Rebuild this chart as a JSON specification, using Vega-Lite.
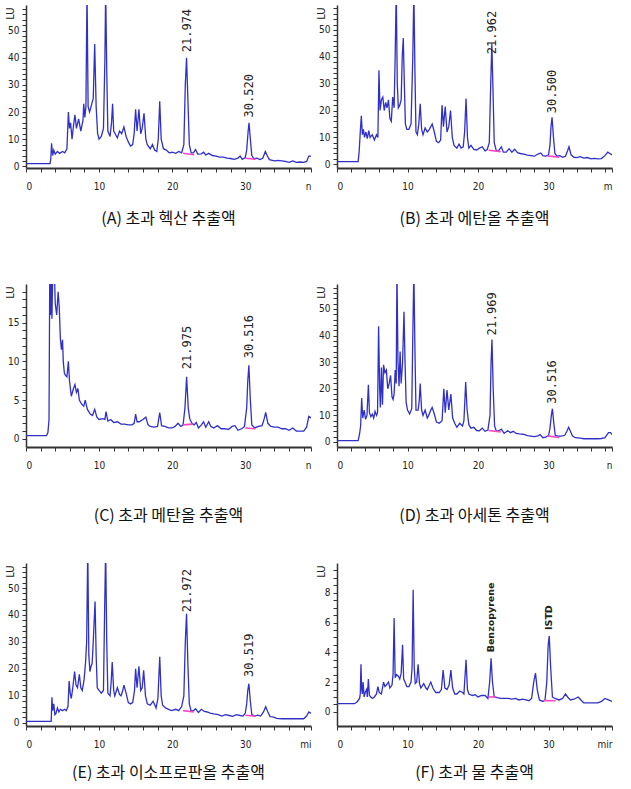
{
  "$schema": "https://vega.github.io/schema/vega-lite/v6.json",
  "background": "white",
  "padding": 5,
  "config": {
    "view": {"stroke": null},
    "axis": {"grid": false, "labelFont": "Liberation Sans Narrow, DejaVu Sans Condensed, sans-serif", "labelFontSize": 10, "labelColor": "#222", "domainColor": "#333", "domainWidth": 1.5, "tickColor": "#333", "tickSize": 4, "titleFont": "DejaVu Sans", "titleFontSize": 10, "titleFontWeight": "normal", "titleColor": "#222"},
    "axisX": {"labelPadding": 9, "domainWidth": 2, "title": null},
    "axisY": {"labelPadding": 3, "titleX": -16, "titleY": 8, "titleAngle": -90, "titleAlign": "center", "titleBaseline": "middle"},
    "title": {"orient": "bottom", "font": "Noto Sans CJK KR", "fontSize": 16, "fontWeight": "normal", "color": "#111", "offset": 18, "frame": "group", "anchor": "middle"}
  },
  "datasets": {
    "A": [{"t":0,"v":1.0},{"t":3.3,"v":1.0},{"t":3.4,"v":3},{"t":3.5,"v":8.5},{"t":3.65,"v":4},{"t":3.8,"v":6},{"t":4.0,"v":4.5},{"t":4.3,"v":5.5},{"t":4.6,"v":4.8},{"t":5.0,"v":5.5},{"t":5.3,"v":5},{"t":5.6,"v":6.5},{"t":5.8,"v":20},{"t":5.95,"v":14},{"t":6.1,"v":16},{"t":6.3,"v":10},{"t":6.5,"v":15},{"t":6.7,"v":19},{"t":6.9,"v":14},{"t":7.2,"v":17.5},{"t":7.5,"v":13},{"t":7.8,"v":17},{"t":7.9,"v":23},{"t":8.05,"v":18},{"t":8.2,"v":22},{"t":8.35,"v":65},{"t":8.5,"v":22},{"t":8.7,"v":20},{"t":8.9,"v":22},{"t":9.2,"v":25},{"t":9.4,"v":45},{"t":9.6,"v":22},{"t":9.8,"v":12},{"t":10.0,"v":10},{"t":10.3,"v":11},{"t":10.6,"v":14},{"t":10.8,"v":40},{"t":10.9,"v":65},{"t":11.05,"v":35},{"t":11.2,"v":13},{"t":11.5,"v":11},{"t":11.7,"v":16},{"t":11.85,"v":23},{"t":12.0,"v":13},{"t":12.2,"v":12},{"t":12.5,"v":10.5},{"t":12.8,"v":13},{"t":13.1,"v":12},{"t":13.4,"v":14.5},{"t":13.7,"v":11},{"t":14.0,"v":9},{"t":14.3,"v":7.5},{"t":14.6,"v":8},{"t":14.8,"v":12},{"t":15.0,"v":21},{"t":15.2,"v":13},{"t":15.45,"v":21},{"t":15.7,"v":12},{"t":15.9,"v":14},{"t":16.15,"v":19.5},{"t":16.4,"v":10},{"t":16.6,"v":8},{"t":17.0,"v":6.5},{"t":17.3,"v":8},{"t":17.6,"v":6},{"t":17.9,"v":5.5},{"t":18.1,"v":10},{"t":18.3,"v":24},{"t":18.5,"v":10},{"t":18.8,"v":6.5},{"t":19.2,"v":6},{"t":19.6,"v":5},{"t":20.0,"v":5.2},{"t":20.5,"v":4.8},{"t":20.9,"v":5.5},{"t":21.3,"v":5},{"t":21.6,"v":8},{"t":21.8,"v":30},{"t":21.97,"v":40},{"t":22.15,"v":25},{"t":22.35,"v":8},{"t":22.6,"v":5},{"t":22.9,"v":5},{"t":23.2,"v":6.2},{"t":23.5,"v":4.5},{"t":24.0,"v":4.6},{"t":24.3,"v":5.2},{"t":24.6,"v":4.2},{"t":25.0,"v":4.8},{"t":25.5,"v":4.0},{"t":26.0,"v":3.8},{"t":26.5,"v":3.4},{"t":27.0,"v":3.4},{"t":27.5,"v":3.0},{"t":28.0,"v":2.9},{"t":28.5,"v":2.6},{"t":29.0,"v":3.0},{"t":29.3,"v":3.8},{"t":29.6,"v":2.6},{"t":30.0,"v":3.2},{"t":30.2,"v":6},{"t":30.4,"v":13},{"t":30.52,"v":16},{"t":30.7,"v":10},{"t":30.9,"v":4},{"t":31.2,"v":2.8},{"t":31.6,"v":3.0},{"t":32.0,"v":2.5},{"t":32.4,"v":3},{"t":32.75,"v":5.5},{"t":33.0,"v":4},{"t":33.3,"v":2.5},{"t":34.0,"v":2.0},{"t":34.5,"v":2.2},{"t":35.0,"v":2.0},{"t":35.5,"v":1.8},{"t":36.0,"v":1.5},{"t":36.5,"v":2.0},{"t":37.0,"v":1.5},{"t":37.5,"v":1.6},{"t":38.0,"v":1.5},{"t":38.4,"v":1.8},{"t":38.7,"v":3.8},{"t":39.0,"v":3.8}],
    "A_base": [{"seg":1,"t":21.5,"v":4.8},{"seg":1,"t":23.0,"v":4.3},{"seg":2,"t":30.0,"v":3.0},{"seg":2,"t":31.4,"v":2.6}],
    "A_lab": [{"t":21.974,"v":42,"label":"21.974"},{"t":30.52,"v":18,"label":"30.520"}],
    "B": [{"t":0,"v":1.0},{"t":3.0,"v":1.0},{"t":3.15,"v":5},{"t":3.3,"v":12},{"t":3.45,"v":18},{"t":3.6,"v":11},{"t":3.75,"v":13},{"t":3.9,"v":10},{"t":4.1,"v":12},{"t":4.3,"v":9.5},{"t":4.5,"v":12.5},{"t":4.7,"v":10},{"t":5.0,"v":11},{"t":5.3,"v":9},{"t":5.6,"v":11},{"t":5.8,"v":10},{"t":5.95,"v":35},{"t":6.1,"v":20},{"t":6.3,"v":24},{"t":6.5,"v":25},{"t":6.7,"v":20},{"t":6.9,"v":23},{"t":7.1,"v":21},{"t":7.3,"v":24},{"t":7.5,"v":17},{"t":7.7,"v":16},{"t":7.9,"v":25},{"t":8.1,"v":21},{"t":8.25,"v":40},{"t":8.4,"v":65},{"t":8.55,"v":30},{"t":8.7,"v":21},{"t":8.9,"v":22},{"t":9.1,"v":24},{"t":9.25,"v":40},{"t":9.4,"v":47},{"t":9.55,"v":30},{"t":9.7,"v":15},{"t":9.9,"v":13},{"t":10.2,"v":13},{"t":10.5,"v":15},{"t":10.75,"v":40},{"t":10.9,"v":65},{"t":11.05,"v":35},{"t":11.2,"v":12},{"t":11.4,"v":11},{"t":11.6,"v":15},{"t":11.8,"v":22.5},{"t":12.0,"v":13},{"t":12.2,"v":11},{"t":12.5,"v":13.5},{"t":12.8,"v":12},{"t":13.1,"v":13},{"t":13.5,"v":15},{"t":13.8,"v":12},{"t":14.1,"v":8.5},{"t":14.4,"v":8},{"t":14.7,"v":9},{"t":14.9,"v":22},{"t":15.1,"v":14},{"t":15.35,"v":21.5},{"t":15.6,"v":12},{"t":15.85,"v":14},{"t":16.1,"v":20},{"t":16.35,"v":10},{"t":16.6,"v":7},{"t":17.0,"v":6},{"t":17.3,"v":7.5},{"t":17.6,"v":6},{"t":17.9,"v":6.5},{"t":18.1,"v":12},{"t":18.3,"v":24.5},{"t":18.5,"v":10},{"t":18.7,"v":6},{"t":19.0,"v":7},{"t":19.4,"v":5.5},{"t":19.8,"v":5.3},{"t":20.2,"v":6},{"t":20.6,"v":6.5},{"t":21.0,"v":5},{"t":21.3,"v":5.5},{"t":21.6,"v":8},{"t":21.8,"v":30},{"t":21.96,"v":45},{"t":22.1,"v":30},{"t":22.3,"v":8},{"t":22.6,"v":5},{"t":22.9,"v":5},{"t":23.3,"v":6.5},{"t":23.6,"v":4.5},{"t":24.0,"v":4.5},{"t":24.4,"v":5.8},{"t":24.8,"v":4.5},{"t":25.2,"v":5.6},{"t":25.6,"v":4.3},{"t":26.0,"v":4.0},{"t":26.5,"v":3.8},{"t":27.0,"v":3.4},{"t":27.5,"v":3.2},{"t":28.0,"v":3.0},{"t":28.5,"v":3.8},{"t":28.9,"v":4.2},{"t":29.2,"v":3.2},{"t":29.6,"v":3.0},{"t":30.0,"v":3.5},{"t":30.2,"v":7},{"t":30.35,"v":14},{"t":30.5,"v":17.5},{"t":30.7,"v":10},{"t":30.9,"v":4},{"t":31.2,"v":3},{"t":31.6,"v":3.2},{"t":32.0,"v":2.6},{"t":32.4,"v":3},{"t":32.7,"v":5},{"t":32.9,"v":6.5},{"t":33.2,"v":3.5},{"t":33.6,"v":2.6},{"t":34.0,"v":2.5},{"t":34.5,"v":2.8},{"t":35.0,"v":2.3},{"t":35.5,"v":2.5},{"t":36.0,"v":2.0},{"t":36.5,"v":2.2},{"t":37.0,"v":2.0},{"t":37.5,"v":2.1},{"t":38.0,"v":3.2},{"t":38.4,"v":4.5},{"t":38.7,"v":4.0},{"t":39.0,"v":3.5}],
    "B_base": [{"seg":1,"t":21.5,"v":5.2},{"seg":1,"t":23.2,"v":4.7},{"seg":2,"t":29.8,"v":3.1},{"seg":2,"t":31.5,"v":2.6}],
    "B_lab": [{"t":21.962,"v":41,"label":"21.962"},{"t":30.5,"v":19,"label":"30.500"}],
    "C": [{"t":0,"v":0.4},{"t":2.8,"v":0.4},{"t":3.0,"v":0.8},{"t":3.15,"v":2.5},{"t":3.25,"v":21},{"t":3.35,"v":16},{"t":3.45,"v":21},{"t":3.55,"v":15.5},{"t":3.65,"v":21},{"t":3.9,"v":21},{"t":4.0,"v":17.5},{"t":4.2,"v":16},{"t":4.4,"v":19},{"t":4.55,"v":17},{"t":4.7,"v":13},{"t":4.85,"v":11.5},{"t":5.0,"v":12.8},{"t":5.1,"v":10},{"t":5.25,"v":8.5},{"t":5.4,"v":8.2},{"t":5.6,"v":8},{"t":5.8,"v":10},{"t":5.95,"v":7.5},{"t":6.2,"v":5.5},{"t":6.5,"v":6.5},{"t":6.7,"v":7},{"t":6.9,"v":6},{"t":7.1,"v":6.5},{"t":7.3,"v":5},{"t":7.6,"v":4.5},{"t":7.9,"v":4.2},{"t":8.1,"v":5},{"t":8.4,"v":3.8},{"t":8.8,"v":3.2},{"t":9.1,"v":3},{"t":9.4,"v":3.8},{"t":9.7,"v":2.8},{"t":10.0,"v":2.5},{"t":10.5,"v":2.6},{"t":10.8,"v":2.5},{"t":10.95,"v":3.5},{"t":11.2,"v":2.3},{"t":11.6,"v":2.5},{"t":12.0,"v":2.1},{"t":12.5,"v":2.2},{"t":13.0,"v":1.9},{"t":13.5,"v":1.9},{"t":14.0,"v":1.8},{"t":14.5,"v":1.8},{"t":14.8,"v":2.0},{"t":15.0,"v":3.2},{"t":15.2,"v":2.2},{"t":15.5,"v":2.2},{"t":16.0,"v":2.5},{"t":16.4,"v":2.8},{"t":16.7,"v":1.8},{"t":17.0,"v":1.6},{"t":17.5,"v":1.5},{"t":18.0,"v":1.6},{"t":18.3,"v":3.4},{"t":18.55,"v":1.7},{"t":19.0,"v":1.6},{"t":19.5,"v":1.4},{"t":20.0,"v":1.4},{"t":20.4,"v":1.6},{"t":20.8,"v":2.0},{"t":21.2,"v":1.6},{"t":21.5,"v":1.8},{"t":21.75,"v":4},{"t":21.98,"v":8},{"t":22.2,"v":4},{"t":22.4,"v":2.6},{"t":22.7,"v":2.0},{"t":23.0,"v":1.8},{"t":23.3,"v":2.1},{"t":23.6,"v":1.4},{"t":24.0,"v":1.8},{"t":24.3,"v":2.2},{"t":24.6,"v":1.5},{"t":25.0,"v":2.2},{"t":25.3,"v":1.6},{"t":25.7,"v":1.4},{"t":26.2,"v":1.7},{"t":26.7,"v":1.3},{"t":27.2,"v":1.3},{"t":27.7,"v":1.2},{"t":28.2,"v":1.6},{"t":28.6,"v":1.7},{"t":29.0,"v":1.1},{"t":29.5,"v":1.3},{"t":29.9,"v":1.6},{"t":30.2,"v":4},{"t":30.35,"v":7.5},{"t":30.5,"v":9.5},{"t":30.7,"v":5},{"t":30.9,"v":1.8},{"t":31.3,"v":1.4},{"t":31.8,"v":1.6},{"t":32.3,"v":1.7},{"t":32.6,"v":2.6},{"t":32.8,"v":3.4},{"t":33.1,"v":2},{"t":33.5,"v":1.6},{"t":34.0,"v":1.5},{"t":34.5,"v":1.5},{"t":35.0,"v":1.3},{"t":35.5,"v":1.3},{"t":36.0,"v":1.1},{"t":36.5,"v":1.4},{"t":37.0,"v":1.0},{"t":37.5,"v":1.0},{"t":38.0,"v":1.0},{"t":38.4,"v":1.5},{"t":38.7,"v":2.9},{"t":39.0,"v":2.7}],
    "C_base": [{"seg":1,"t":21.5,"v":1.8},{"seg":1,"t":22.8,"v":1.9},{"seg":2,"t":30.0,"v":1.4},{"seg":2,"t":31.4,"v":1.3}],
    "C_lab": [{"t":21.975,"v":9.0,"label":"21.975"},{"t":30.516,"v":10.4,"label":"30.516"}],
    "D": [{"t":0,"v":0.5},{"t":3.0,"v":0.5},{"t":3.2,"v":3},{"t":3.35,"v":6},{"t":3.5,"v":16.5},{"t":3.65,"v":9},{"t":3.85,"v":12},{"t":4.05,"v":8.5},{"t":4.25,"v":10},{"t":4.45,"v":21.5},{"t":4.6,"v":11},{"t":4.8,"v":9.5},{"t":5.0,"v":10.5},{"t":5.2,"v":9},{"t":5.4,"v":11.5},{"t":5.6,"v":10},{"t":5.75,"v":11},{"t":5.9,"v":43.5},{"t":6.05,"v":20},{"t":6.15,"v":13},{"t":6.3,"v":28},{"t":6.45,"v":14},{"t":6.6,"v":29},{"t":6.8,"v":26},{"t":7.0,"v":27},{"t":7.2,"v":20},{"t":7.4,"v":22},{"t":7.6,"v":25},{"t":7.8,"v":17},{"t":7.95,"v":16},{"t":8.1,"v":18},{"t":8.25,"v":27},{"t":8.4,"v":22},{"t":8.5,"v":65},{"t":8.65,"v":30},{"t":8.8,"v":21},{"t":8.95,"v":34},{"t":9.1,"v":22},{"t":9.3,"v":30},{"t":9.5,"v":49},{"t":9.65,"v":30},{"t":9.8,"v":15},{"t":10.0,"v":12},{"t":10.3,"v":10.5},{"t":10.6,"v":12.5},{"t":10.75,"v":40},{"t":10.9,"v":65},{"t":11.05,"v":35},{"t":11.2,"v":12},{"t":11.5,"v":12},{"t":11.65,"v":15},{"t":11.8,"v":22},{"t":12.0,"v":12},{"t":12.2,"v":10},{"t":12.5,"v":12},{"t":12.8,"v":9},{"t":13.0,"v":10},{"t":13.3,"v":12},{"t":13.5,"v":13},{"t":13.8,"v":10.5},{"t":14.1,"v":7.5},{"t":14.5,"v":7},{"t":14.9,"v":8},{"t":15.15,"v":20},{"t":15.35,"v":11},{"t":15.6,"v":19.5},{"t":15.85,"v":12},{"t":16.15,"v":18},{"t":16.4,"v":9},{"t":16.7,"v":7},{"t":17.0,"v":5.5},{"t":17.4,"v":7},{"t":17.8,"v":6},{"t":18.0,"v":8},{"t":18.25,"v":22.5},{"t":18.45,"v":12},{"t":18.7,"v":6.5},{"t":19.0,"v":5.2},{"t":19.4,"v":5.5},{"t":19.8,"v":4.3},{"t":20.2,"v":4.2},{"t":20.6,"v":5.2},{"t":21.0,"v":4},{"t":21.4,"v":4.5},{"t":21.7,"v":10},{"t":21.85,"v":30},{"t":21.98,"v":38.5},{"t":22.15,"v":20},{"t":22.35,"v":6},{"t":22.6,"v":4},{"t":23.0,"v":4.3},{"t":23.3,"v":4.8},{"t":23.7,"v":3.2},{"t":24.2,"v":4.2},{"t":24.6,"v":3.5},{"t":25.0,"v":4},{"t":25.4,"v":3.2},{"t":25.9,"v":3.0},{"t":26.4,"v":2.9},{"t":27.0,"v":2.4},{"t":27.5,"v":2.2},{"t":28.0,"v":2.0},{"t":28.5,"v":2.3},{"t":28.8,"v":2.8},{"t":29.2,"v":1.6},{"t":29.6,"v":1.8},{"t":30.0,"v":2.4},{"t":30.2,"v":5},{"t":30.4,"v":10},{"t":30.55,"v":12.5},{"t":30.75,"v":7},{"t":30.95,"v":2.5},{"t":31.3,"v":2.2},{"t":31.8,"v":2.2},{"t":32.3,"v":2.5},{"t":32.6,"v":4},{"t":32.85,"v":5.5},{"t":33.1,"v":4},{"t":33.4,"v":2.2},{"t":33.8,"v":1.6},{"t":34.5,"v":1.4},{"t":35.0,"v":1.2},{"t":36.0,"v":1.2},{"t":37.0,"v":1.2},{"t":37.5,"v":1.3},{"t":38.0,"v":1.6},{"t":38.5,"v":3.5},{"t":38.8,"v":3.5},{"t":39.0,"v":2.8}],
    "D_base": [{"seg":1,"t":21.5,"v":4.3},{"seg":1,"t":23.2,"v":3.8},{"seg":2,"t":29.8,"v":2.3},{"seg":2,"t":31.5,"v":1.7}],
    "D_lab": [{"t":21.969,"v":40,"label":"21.969"},{"t":30.516,"v":14.4,"label":"30.516"}],
    "E": [{"t":0,"v":0.5},{"t":3.45,"v":0.5},{"t":3.55,"v":9.5},{"t":3.65,"v":4.5},{"t":3.8,"v":7},{"t":3.95,"v":3},{"t":4.1,"v":3.5},{"t":4.3,"v":5.5},{"t":4.5,"v":4},{"t":4.7,"v":5},{"t":5.0,"v":4.5},{"t":5.3,"v":5},{"t":5.5,"v":4.5},{"t":5.75,"v":6},{"t":5.9,"v":15.5},{"t":6.05,"v":11},{"t":6.2,"v":9},{"t":6.4,"v":13},{"t":6.65,"v":19},{"t":6.85,"v":14},{"t":7.05,"v":13},{"t":7.3,"v":18},{"t":7.5,"v":13},{"t":7.7,"v":12},{"t":7.95,"v":16},{"t":8.15,"v":22.5},{"t":8.3,"v":30},{"t":8.45,"v":65},{"t":8.6,"v":25},{"t":8.75,"v":19},{"t":8.9,"v":21},{"t":9.05,"v":22},{"t":9.2,"v":30},{"t":9.45,"v":45},{"t":9.6,"v":25},{"t":9.75,"v":13},{"t":10.0,"v":12},{"t":10.3,"v":11},{"t":10.6,"v":12},{"t":10.75,"v":40},{"t":10.9,"v":65},{"t":11.05,"v":30},{"t":11.2,"v":11},{"t":11.5,"v":10},{"t":11.65,"v":15},{"t":11.8,"v":22.5},{"t":12.0,"v":12},{"t":12.15,"v":10},{"t":12.5,"v":13},{"t":12.8,"v":10.5},{"t":13.0,"v":10},{"t":13.2,"v":11.5},{"t":13.4,"v":14},{"t":13.7,"v":11},{"t":14.0,"v":7.5},{"t":14.3,"v":7},{"t":14.6,"v":7.5},{"t":14.85,"v":12},{"t":15.0,"v":20},{"t":15.2,"v":13},{"t":15.45,"v":21},{"t":15.7,"v":12},{"t":15.9,"v":13},{"t":16.1,"v":19.5},{"t":16.35,"v":10},{"t":16.6,"v":7},{"t":17.0,"v":6.5},{"t":17.4,"v":8},{"t":17.8,"v":5.5},{"t":18.05,"v":9},{"t":18.3,"v":24.5},{"t":18.5,"v":10},{"t":18.7,"v":6.5},{"t":19.1,"v":5.5},{"t":19.5,"v":5},{"t":19.9,"v":4.5},{"t":20.5,"v":5},{"t":20.9,"v":4.5},{"t":21.3,"v":6},{"t":21.6,"v":10},{"t":21.8,"v":30},{"t":21.97,"v":40.5},{"t":22.15,"v":22},{"t":22.35,"v":7},{"t":22.6,"v":4.2},{"t":22.9,"v":4.5},{"t":23.2,"v":5.2},{"t":23.6,"v":3.8},{"t":24.0,"v":5},{"t":24.4,"v":4.2},{"t":24.8,"v":4},{"t":25.2,"v":3.6},{"t":25.7,"v":3.3},{"t":26.3,"v":3},{"t":26.8,"v":2.5},{"t":27.3,"v":3},{"t":27.8,"v":2.7},{"t":28.3,"v":2.4},{"t":28.8,"v":3},{"t":29.3,"v":2.7},{"t":29.7,"v":2.5},{"t":30.0,"v":3.5},{"t":30.2,"v":7},{"t":30.35,"v":12},{"t":30.5,"v":14.5},{"t":30.7,"v":8},{"t":30.9,"v":3},{"t":31.3,"v":2.5},{"t":31.7,"v":2.8},{"t":32.1,"v":2.5},{"t":32.5,"v":4},{"t":32.8,"v":6},{"t":33.1,"v":4},{"t":33.4,"v":2.3},{"t":33.8,"v":2.2},{"t":34.3,"v":1.6},{"t":35.0,"v":1.5},{"t":36.0,"v":1.5},{"t":37.0,"v":1.5},{"t":38.0,"v":1.5},{"t":38.4,"v":2.5},{"t":38.7,"v":4},{"t":39.0,"v":3.5}],
    "E_base": [{"seg":1,"t":21.5,"v":4.5},{"seg":1,"t":23.0,"v":4.0},{"seg":2,"t":30.0,"v":2.8},{"seg":2,"t":31.4,"v":2.4}],
    "E_lab": [{"t":21.972,"v":41,"label":"21.972"},{"t":30.519,"v":17,"label":"30.519"}],
    "F": [{"t":0,"v":0.55},{"t":2.5,"v":0.55},{"t":2.9,"v":0.7},{"t":3.2,"v":0.9},{"t":3.3,"v":1.2},{"t":3.4,"v":3.2},{"t":3.5,"v":1.5},{"t":3.6,"v":1.2},{"t":3.7,"v":2.0},{"t":3.85,"v":1.0},{"t":4.0,"v":1.3},{"t":4.2,"v":1.5},{"t":4.3,"v":1.0},{"t":4.45,"v":2.2},{"t":4.6,"v":1.1},{"t":4.8,"v":1.0},{"t":5.0,"v":0.9},{"t":5.3,"v":1.0},{"t":5.6,"v":1.2},{"t":5.8,"v":1.7},{"t":6.0,"v":1.3},{"t":6.3,"v":1.2},{"t":6.6,"v":2.0},{"t":6.8,"v":1.7},{"t":7.0,"v":1.8},{"t":7.3,"v":2.0},{"t":7.5,"v":1.6},{"t":7.8,"v":1.8},{"t":7.95,"v":2.5},{"t":8.1,"v":6.3},{"t":8.25,"v":2.3},{"t":8.45,"v":2.5},{"t":8.7,"v":2.4},{"t":8.9,"v":2.2},{"t":9.1,"v":2.6},{"t":9.3,"v":4.5},{"t":9.45,"v":2.2},{"t":9.65,"v":2.0},{"t":9.9,"v":1.7},{"t":10.2,"v":1.7},{"t":10.5,"v":2.0},{"t":10.65,"v":3},{"t":10.8,"v":8.2},{"t":10.95,"v":3},{"t":11.1,"v":1.9},{"t":11.3,"v":2.0},{"t":11.5,"v":3.2},{"t":11.7,"v":1.9},{"t":11.9,"v":1.6},{"t":12.3,"v":1.9},{"t":12.6,"v":1.6},{"t":12.8,"v":1.5},{"t":13.3,"v":2.0},{"t":13.6,"v":1.6},{"t":14.0,"v":1.3},{"t":14.5,"v":1.3},{"t":14.8,"v":1.5},{"t":15.05,"v":2.8},{"t":15.3,"v":1.6},{"t":15.6,"v":1.5},{"t":15.9,"v":1.8},{"t":16.15,"v":2.8},{"t":16.4,"v":1.6},{"t":16.7,"v":1.2},{"t":17.0,"v":1.2},{"t":17.4,"v":1.4},{"t":17.8,"v":1.3},{"t":18.0,"v":1.2},{"t":18.3,"v":3.5},{"t":18.5,"v":1.5},{"t":18.7,"v":1.2},{"t":19.2,"v":1.1},{"t":19.6,"v":1.15},{"t":20.0,"v":1.0},{"t":20.5,"v":1.1},{"t":21.0,"v":1.1},{"t":21.4,"v":0.9},{"t":21.65,"v":2},{"t":21.85,"v":3.6},{"t":22.05,"v":2},{"t":22.3,"v":1.0},{"t":22.7,"v":0.95},{"t":23.2,"v":0.9},{"t":23.8,"v":0.9},{"t":24.3,"v":0.9},{"t":24.8,"v":0.85},{"t":25.3,"v":0.9},{"t":25.8,"v":0.8},{"t":26.3,"v":0.85},{"t":26.8,"v":0.8},{"t":27.2,"v":0.75},{"t":27.6,"v":0.9},{"t":27.9,"v":2},{"t":28.15,"v":2.6},{"t":28.4,"v":1.5},{"t":28.7,"v":0.8},{"t":29.2,"v":0.7},{"t":29.5,"v":0.8},{"t":29.75,"v":2},{"t":29.95,"v":4.5},{"t":30.1,"v":5.1},{"t":30.3,"v":3},{"t":30.55,"v":1.0},{"t":30.9,"v":0.9},{"t":31.5,"v":0.8},{"t":32.0,"v":0.9},{"t":32.4,"v":1.2},{"t":32.7,"v":1.0},{"t":33.1,"v":0.8},{"t":33.6,"v":0.85},{"t":34.2,"v":1.0},{"t":34.6,"v":0.8},{"t":35.0,"v":0.6},{"t":35.5,"v":0.6},{"t":36.0,"v":0.6},{"t":36.5,"v":0.6},{"t":37.0,"v":0.6},{"t":37.5,"v":0.7},{"t":38.0,"v":0.9},{"t":38.5,"v":0.8},{"t":39.0,"v":0.7}],
    "F_base": [{"seg":1,"t":21.5,"v":1.0},{"seg":1,"t":22.6,"v":1.0},{"seg":2,"t":29.3,"v":0.75},{"seg":2,"t":31.0,"v":0.75}],
    "F_lab": [{"t":21.9,"v":4.0,"label":"Benzopyrene"},{"t":30.1,"v":5.5,"label":"ISTD"}]
  },
  "bounds": "flush",
  "columns": 2,
  "spacing": {"row": 116, "column": 26},
  "concat": [
    {
      "width": 285, "height": 163,
      "title": {"text": "(A) 초과 헥산 추출액", "offset": 20},
      "encoding": {
        "x": {"field": "t", "type": "quantitative", "scale": {"domain": [0, 39], "nice": false, "zero": false}, "axis": {"values": [0,2,4,6,8,10,12,14,16,18,20,22,24,26,28,30,32,34,36,38,39], "labelExpr": "datum.value == 39 ? 'n' : (datum.value % 10 == 0 ? datum.label : '')"}},
        "y": {"field": "v", "type": "quantitative", "scale": {"domain": [-0.6, 59.4], "nice": false, "zero": false}, "axis": {"title": "LU", "values": [0,2,4,6,8,10,12,14,16,18,20,22,24,26,28,30,32,34,36,38,40,42,44,46,48,50,52,54,56,58], "labelExpr": "datum.value % 10 == 0 ? datum.label : ''"}}
      },
      "layer": [
        {"data": {"name": "A"}, "mark": {"type": "line", "clip": true, "color": "#3030c8", "strokeWidth": 1.3}},
        {"data": {"name": "A_base"}, "mark": {"type": "line", "color": "#ff44c4", "strokeWidth": 1.6}, "encoding": {"detail": {"field": "seg"}}},
        {"data": {"name": "A_lab"}, "mark": {"type": "text", "angle": 270, "align": "left", "baseline": "middle", "font": "DejaVu Sans Mono", "fontSize": 12, "color": "#222"}, "encoding": {"text": {"field": "label"}}}
      ]
    },
    {
      "width": 275, "height": 163,
      "title": {"text": "(B) 초과 에탄올 추출액", "offset": 20},
      "encoding": {
        "x": {"field": "t", "type": "quantitative", "scale": {"domain": [0, 39], "nice": false, "zero": false}, "axis": {"values": [0,2,4,6,8,10,12,14,16,18,20,22,24,26,28,30,32,34,36,38,39], "labelExpr": "datum.value == 39 ? 'm' : (datum.value % 10 == 0 ? datum.label : '')"}},
        "y": {"field": "v", "type": "quantitative", "scale": {"domain": [-1.4, 59.3], "nice": false, "zero": false}, "axis": {"title": "LU", "values": [0,2,4,6,8,10,12,14,16,18,20,22,24,26,28,30,32,34,36,38,40,42,44,46,48,50,52,54,56,58], "labelExpr": "datum.value % 10 == 0 ? datum.label : ''"}}
      },
      "layer": [
        {"data": {"name": "B"}, "mark": {"type": "line", "clip": true, "color": "#3030c8", "strokeWidth": 1.3}},
        {"data": {"name": "B_base"}, "mark": {"type": "line", "color": "#ff44c4", "strokeWidth": 1.6}, "encoding": {"detail": {"field": "seg"}}},
        {"data": {"name": "B_lab"}, "mark": {"type": "text", "angle": 270, "align": "left", "baseline": "middle", "font": "DejaVu Sans Mono", "fontSize": 12, "color": "#222"}, "encoding": {"text": {"field": "label"}}}
      ]
    },
    {
      "width": 285, "height": 163,
      "title": {"text": "(C) 초과 메탄올 추출액", "offset": 38},
      "encoding": {
        "x": {"field": "t", "type": "quantitative", "scale": {"domain": [0, 39], "nice": false, "zero": false}, "axis": {"values": [0,2,4,6,8,10,12,14,16,18,20,22,24,26,28,30,32,34,36,38,39], "labelExpr": "datum.value == 39 ? 'n' : (datum.value % 10 == 0 ? datum.label : '')"}},
        "y": {"field": "v", "type": "quantitative", "scale": {"domain": [-1.06, 20], "nice": false, "zero": false}, "axis": {"title": "LU", "values": [0,1,2,3,4,5,6,7,8,9,10,11,12,13,14,15,16,17,18,19], "labelExpr": "datum.value % 5 == 0 ? datum.label : ''"}}
      },
      "layer": [
        {"data": {"name": "C"}, "mark": {"type": "line", "clip": true, "color": "#3030c8", "strokeWidth": 1.3}},
        {"data": {"name": "C_base"}, "mark": {"type": "line", "color": "#ff44c4", "strokeWidth": 1.6}, "encoding": {"detail": {"field": "seg"}}},
        {"data": {"name": "C_lab"}, "mark": {"type": "text", "angle": 270, "align": "left", "baseline": "middle", "font": "DejaVu Sans Mono", "fontSize": 12, "color": "#222"}, "encoding": {"text": {"field": "label"}}}
      ]
    },
    {
      "width": 275, "height": 163,
      "title": {"text": "(D) 초과 아세톤 추출액", "offset": 38},
      "encoding": {
        "x": {"field": "t", "type": "quantitative", "scale": {"domain": [0, 39], "nice": false, "zero": false}, "axis": {"values": [0,2,4,6,8,10,12,14,16,18,20,22,24,26,28,30,32,34,36,38,39], "labelExpr": "datum.value == 39 ? 'n' : (datum.value % 10 == 0 ? datum.label : '')"}},
        "y": {"field": "v", "type": "quantitative", "scale": {"domain": [-1.9, 59.4], "nice": false, "zero": false}, "axis": {"title": "LU", "values": [0,2,4,6,8,10,12,14,16,18,20,22,24,26,28,30,32,34,36,38,40,42,44,46,48,50,52,54,56,58], "labelExpr": "datum.value % 10 == 0 ? datum.label : ''"}}
      },
      "layer": [
        {"data": {"name": "D"}, "mark": {"type": "line", "clip": true, "color": "#3030c8", "strokeWidth": 1.3}},
        {"data": {"name": "D_base"}, "mark": {"type": "line", "color": "#ff44c4", "strokeWidth": 1.6}, "encoding": {"detail": {"field": "seg"}}},
        {"data": {"name": "D_lab"}, "mark": {"type": "text", "angle": 270, "align": "left", "baseline": "middle", "font": "DejaVu Sans Mono", "fontSize": 12, "color": "#222"}, "encoding": {"text": {"field": "label"}}}
      ]
    },
    {
      "width": 285, "height": 163,
      "title": {"text": "(E) 초과 이소프로판올 추출액", "offset": 16},
      "encoding": {
        "x": {"field": "t", "type": "quantitative", "scale": {"domain": [0, 39], "nice": false, "zero": false}, "axis": {"values": [0,2,4,6,8,10,12,14,16,18,20,22,24,26,28,30,32,34,36,38,39], "labelExpr": "datum.value == 39 ? 'mi' : (datum.value % 10 == 0 ? datum.label : '')"}},
        "y": {"field": "v", "type": "quantitative", "scale": {"domain": [-1.2, 59.3], "nice": false, "zero": false}, "axis": {"title": "LU", "values": [0,2,4,6,8,10,12,14,16,18,20,22,24,26,28,30,32,34,36,38,40,42,44,46,48,50,52,54,56,58], "labelExpr": "datum.value % 10 == 0 ? datum.label : ''"}}
      },
      "layer": [
        {"data": {"name": "E"}, "mark": {"type": "line", "clip": true, "color": "#3030c8", "strokeWidth": 1.3}},
        {"data": {"name": "E_base"}, "mark": {"type": "line", "color": "#ff44c4", "strokeWidth": 1.6}, "encoding": {"detail": {"field": "seg"}}},
        {"data": {"name": "E_lab"}, "mark": {"type": "text", "angle": 270, "align": "left", "baseline": "middle", "font": "DejaVu Sans Mono", "fontSize": 12, "color": "#222"}, "encoding": {"text": {"field": "label"}}}
      ]
    },
    {
      "width": 275, "height": 163,
      "title": {"text": "(F) 초과 물 추출액", "offset": 16},
      "encoding": {
        "x": {"field": "t", "type": "quantitative", "scale": {"domain": [0, 39], "nice": false, "zero": false}, "axis": {"values": [0,2,4,6,8,10,12,14,16,18,20,22,24,26,28,30,32,34,36,38,39], "labelExpr": "datum.value == 39 ? 'mir' : (datum.value % 10 == 0 ? datum.label : '')"}},
        "y": {"field": "v", "type": "quantitative", "scale": {"domain": [-0.95, 10], "nice": false, "zero": false}, "axis": {"title": "LU", "values": [0,0.5,1,1.5,2,2.5,3,3.5,4,4.5,5,5.5,6,6.5,7,7.5,8,8.5,9,9.5], "labelExpr": "datum.value % 2 == 0 ? format(datum.value, 'd') : ''"}}
      },
      "layer": [
        {"data": {"name": "F"}, "mark": {"type": "line", "clip": true, "color": "#3030c8", "strokeWidth": 1.3}},
        {"data": {"name": "F_base"}, "mark": {"type": "line", "color": "#ff44c4", "strokeWidth": 1.6}, "encoding": {"detail": {"field": "seg"}}},
        {"data": {"name": "F_lab"}, "mark": {"type": "text", "angle": 270, "align": "left", "baseline": "middle", "font": "DejaVu Sans", "fontSize": 9.5, "fontWeight": "bold", "color": "#222"}, "encoding": {"text": {"field": "label"}}}
      ]
    }
  ]
}
